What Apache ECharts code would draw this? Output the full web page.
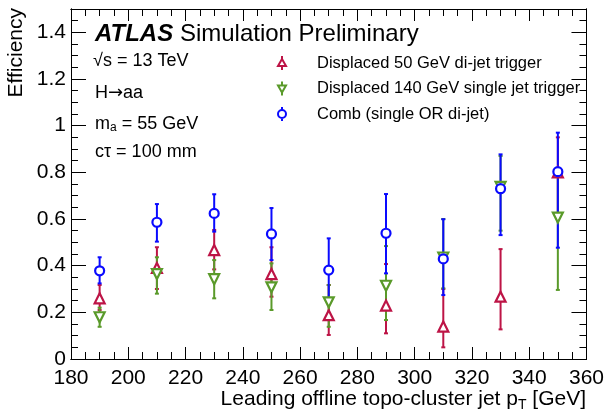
<!DOCTYPE html>
<html>
<head>
<meta charset="utf-8">
<script src="https://cdn.jsdelivr.net/npm/echarts@6/dist/echarts.min.js"></script>
<style>
  html, body { margin: 0; padding: 0; background: #fff; }
  #chart { width: 607px; height: 418px; }
</style>
</head>
<body>
<div id="chart"></div>
<script>
// leading jet pT bin centres [GeV]
const ptBins = [190, 210, 230, 250, 270, 290, 310, 330, 350];

// Displaced 50 GeV di-jet trigger
const diJetEff = [0.26, 0.39, 0.467, 0.364, 0.188, 0.229, 0.139, 0.267, 0.80];
const diJetUp  = [0.317, 0.479, 0.553, 0.479, 0.317, 0.407, 0.30, 0.471, 0.95];
const diJetLow = [0.21, 0.30, 0.384, 0.267, 0.103, 0.11, 0.05, 0.127, 0.60];

// Displaced 140 GeV single jet trigger
const singleEff = [0.179, 0.364, 0.342, 0.307, 0.243, 0.314, 0.435, 0.738, 0.606];
const singleUp  = [0.22, 0.436, 0.424, 0.41, 0.317, 0.484, 0.60, 0.87, 0.80];
const singleLow = [0.138, 0.28, 0.26, 0.21, 0.138, 0.167, 0.303, 0.55, 0.296];

// Comb (single OR di-jet)
const combEff = [0.378, 0.586, 0.624, 0.536, 0.381, 0.539, 0.429, 0.73, 0.803];
const combUp  = [0.436, 0.664, 0.706, 0.647, 0.517, 0.707, 0.599, 0.877, 0.97];
const combLow = [0.324, 0.503, 0.546, 0.424, 0.26, 0.367, 0.274, 0.531, 0.477];

const names = ['Displaced 50 GeV di-jet trigger', 'Displaced 140 GeV single jet trigger', 'Comb (single OR di-jet)'];

const red = '#bd1446';
const green = '#5a9a2a';
const blue = '#0a0aff';
const font = 'Liberation Sans';

const chart = echarts.init(document.getElementById('chart'));

// vertical error bar with small caps
function errorBars(name, color, low, up) {
    return {
        type: 'custom',
        name: name,
        data: ptBins.map((x, i) => [x, low[i], up[i]]),
        renderItem: function (params, api) {
            const a = api.coord([api.value(0), api.value(1)]);
            const b = api.coord([api.value(0), api.value(2)]);
            const st = { stroke: color, lineWidth: 2 };
            return {
                type: 'group',
                children: [
                    { type: 'line', shape: { x1: a[0], y1: a[1], x2: b[0], y2: b[1] }, style: st },
                    { type: 'line', shape: { x1: a[0] - 2, y1: a[1], x2: a[0] + 2, y2: a[1] }, style: st },
                    { type: 'line', shape: { x1: b[0] - 2, y1: b[1], x2: b[0] + 2, y2: b[1] }, style: st }
                ]
            };
        },
        silent: true
    };
}

function markers(name, color, vals, symbol, size) {
    return {
        type: 'scatter',
        name: name,
        data: ptBins.map((x, i) => [x, vals[i]]),
        symbol: symbol,
        symbolSize: size,
        itemStyle: { color: '#fff', borderColor: color, borderWidth: 2.2, opacity: 1 }
    };
}

const upTri = 'path://M5,0 L10,9 L0,9 Z';
const downTri = 'path://M0,0 L10,0 L5,9 Z';
// legend icons: marker with short bars above and below
const upTriIcon = 'path://M4,0 L4,3 M4,3 L8,10 L0,10 Z M4,10 L4,14';
const downTriIcon = 'path://M4,0 L4,4 M0,4 L8,4 L4,11 Z M4,11 L4,14';
const circIcon = 'path://M4,0 L4,3 M8,7 A4,4 0 1 1 0,7 A4,4 0 1 1 8,7 Z M4,11 L4,14';

function xAx(pos, interval, len, labels) {
    return {
        type: 'value', position: pos, min: 180, max: 360, interval: interval,
        axisLine: { show: true, onZero: false, lineStyle: { color: '#000', width: 1 } },
        axisTick: { inside: true, length: len, lineStyle: { color: '#000' } },
        axisLabel: { show: labels, color: '#000', fontFamily: font, fontSize: 21, margin: 9 },
        splitLine: { show: false }
    };
}
function yAx(pos, interval, len, labels) {
    return {
        type: 'value', position: pos, min: 0, max: 1.5, interval: interval,
        axisLine: { show: true, onZero: false, lineStyle: { color: '#000', width: 1 } },
        axisTick: { inside: true, length: len, lineStyle: { color: '#000' } },
        axisLabel: { show: labels, showMaxLabel: false, color: '#000', fontFamily: font, fontSize: 21, margin: 5 },
        splitLine: { show: false }
    };
}

option = {
    animation: false,
    backgroundColor: '#fff',
    grid: { left: 71, right: 19, top: 9, bottom: 59 },
    xAxis: [
        xAx('bottom', 20, 12, true),
        xAx('bottom', 5, 7, false),
        xAx('top', 20, 12, false),
        xAx('top', 5, 7, false)
    ],
    yAxis: [
        yAx('left', 0.2, 15, true),
        yAx('left', 0.05, 7, false),
        yAx('right', 0.2, 15, false),
        yAx('right', 0.05, 7, false)
    ],
    legend: {
        orient: 'vertical',
        left: 272,
        top: 48,
        itemWidth: 8,
        itemHeight: 14,
        itemGap: 5.5,
        itemStyle: { borderWidth: 2 },
        data: [
            { name: names[0], icon: upTriIcon },
            { name: names[1], icon: downTriIcon },
            { name: names[2], icon: circIcon }
        ],
        textStyle: { color: '#000', fontFamily: font, fontSize: 16.5, lineHeight: 20, padding: [0, 0, 0, 26] }
    },
    graphic: [
        {
            type: 'text', left: 95, top: 22,
            style: {
                text: '{b|ATLAS} Simulation Preliminary',
                fontFamily: font, fontSize: 24, fill: '#000',
                rich: { b: { fontFamily: font, fontSize: 24, fontWeight: 'bold', fontStyle: 'italic' } }
            }
        },
        { type: 'text', left: 93, top: 52, style: { text: '√s = 13 TeV', fontFamily: font, fontSize: 18, fill: '#000' } },
        {
            type: 'text', left: 95, top: 84,
            style: {
                text: 'H{ar|→}aa', fontFamily: font, fontSize: 18, fill: '#000',
                rich: { ar: { fontFamily: 'DejaVu Sans', fontSize: 18 } }
            }
        },
        {
            type: 'text', left: 95, top: 115,
            style: {
                text: 'm{s|a} = 55 GeV', fontFamily: font, fontSize: 18, fill: '#000',
                rich: { s: { fontFamily: font, fontSize: 12, verticalAlign: 'bottom', padding: [8, 0, 0, 0] } }
            }
        },
        { type: 'text', left: 95, top: 143, style: { text: 'cτ = 100 mm', fontFamily: font, fontSize: 18, fill: '#000' } },
        {
            type: 'text', right: 21, top: 389,
            style: {
                text: 'Leading offline topo-cluster jet p{s|T} [GeV]', fontFamily: font, fontSize: 21, fill: '#000',
                rich: { s: { fontFamily: font, fontSize: 14, padding: [12, 0, 0, 0] } }
            }
        },
        {
            type: 'text', left: 6, top: 8, rotation: Math.PI / 2,
            style: { text: 'Efficiency', fontFamily: font, fontSize: 21, fill: '#000' }
        }
    ],
    series: [
        errorBars('e1', red, diJetLow, diJetUp),
        markers(names[0], red, diJetEff, upTri, 10),
        errorBars('e2', green, singleLow, singleUp),
        markers(names[1], green, singleEff, downTri, 10),
        errorBars('e3', blue, combLow, combUp),
        markers(names[2], blue, combEff, 'circle', 9)
    ]
};

chart.setOption(option);
</script>
</body>
</html>
